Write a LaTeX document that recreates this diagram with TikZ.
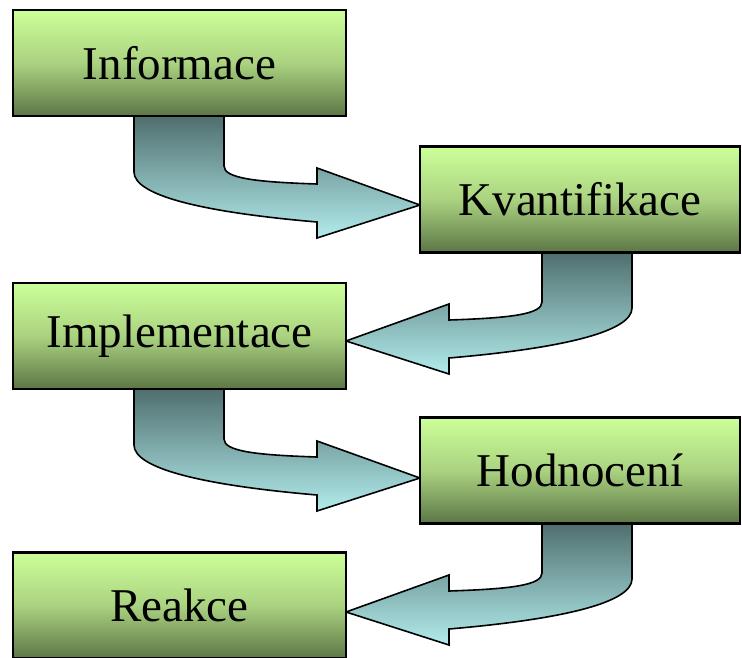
\documentclass[tikz,border=0pt]{standalone}
\usepackage{fontspec}
\setmainfont{Liberation Serif}
\usetikzlibrary{calc}
\definecolor{boxtop}{RGB}{204,255,153}
\definecolor{boxmid}{RGB}{170,210,128}
\definecolor{boxbot}{RGB}{92,118,70}
\definecolor{arrtop}{RGB}{78,108,108}
\definecolor{arrbot}{RGB}{178,236,236}
\tikzset{
  stage/.style={draw=black, line width=2.6pt, minimum width=333pt, minimum height=106pt,
    inner sep=0pt, top color=boxtop, bottom color=boxbot, middle color=boxmid,
    font=\fontsize{47}{50}\selectfont},
  arrowbody/.style={draw=black, line width=1.6pt, line join=miter,
    top color=arrtop, bottom color=arrbot}
}
% bent block arrow leaving a box downwards; #1 = shaft corner, #2 = +1 right / -1 left
\newcommand{\bentarrow}[2]{%
  \begin{scope}[shift={(#1)}, xscale=#2]
    \path[arrowbody] (-90,-2) -- (-90,56)
      .. controls (-90,79) and (-24,96) .. (93,106)
      -- (93,122) -- (196,89) -- (93,52) -- (93,68)
      .. controls (30,66) and (0,62) .. (0,50) -- (0,-2) -- cycle;
  \end{scope}}
\begin{document}
\begin{tikzpicture}[x=1pt, y=-1pt]
  \useasboundingbox (0,0) rectangle (742,658);
  % arrow anchors
  \coordinate (o1) at (224,116);
  \coordinate (o2) at (542,252);
  \coordinate (o3) at (224,389);
  \coordinate (o4) at (542,523);
  \bentarrow{o1}{1}
  \bentarrow{o2}{-1}
  \bentarrow{o3}{1}
  \bentarrow{o4}{-1}
  % stages
  \node[stage] (s1) at (179.5,63)  {Informace};
  \node[stage, minimum width=320pt] (s2) at (580,199.5) {Kvantifikace};
  \node[stage] (s3) at (179.5,336) {Implementace};
  \node[stage, minimum width=320pt] (s4) at (580,470.5) {Hodnocení};
  \node[stage] (s5) at (179.5,605.5) {Reakce};
\end{tikzpicture}
\end{document}
